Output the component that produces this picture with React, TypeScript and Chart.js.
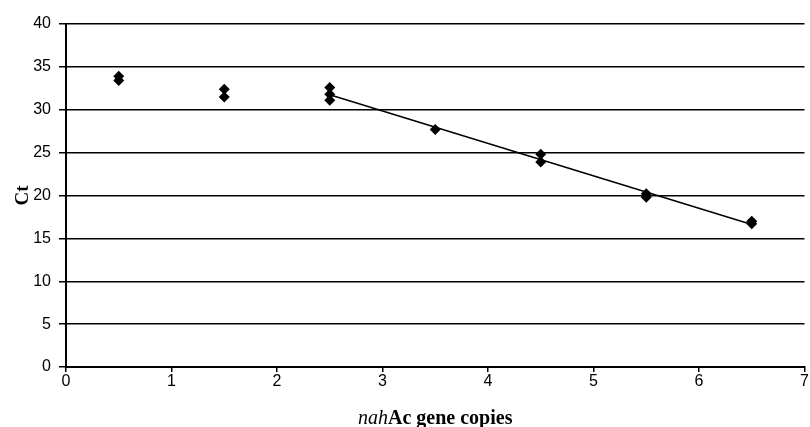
import React, { useEffect, useRef } from "react";
import { Chart, registerables } from "chart.js";

Chart.register(...registerables);

// Measured points (x = log gene copies, y = Ct)
const pointsX = [0.5, 0.5, 1.5, 1.5, 2.5, 2.5, 2.5, 3.5, 4.5, 4.5, 5.5, 5.5, 6.5, 6.5];
const pointsY = [33.9, 33.4, 32.4, 31.5, 32.6, 31.8, 31.1, 27.7, 24.8, 23.9, 20.2, 19.8, 17.0, 16.7];

// Linear trend fitted over this x range
const trendRange = [2.5, 6.5];

const xTicks = [0, 1, 2, 3, 4, 5, 6, 7];
const yTicks = [0, 5, 10, 15, 20, 25, 30, 35, 40];

const yTitle = "Ct";
const xTitleItalic = "nah";
const xTitleRest = "Ac gene copies";

function fitLine() {
  const xs: number[] = [];
  const ys: number[] = [];
  pointsX.forEach((x, i) => {
    if (x >= trendRange[0] && x <= trendRange[1]) {
      xs.push(x);
      ys.push(pointsY[i]);
    }
  });
  const n = xs.length;
  const mx = xs.reduce((a, b) => a + b, 0) / n;
  const my = ys.reduce((a, b) => a + b, 0) / n;
  let sxy = 0;
  let sxx = 0;
  for (let i = 0; i < n; i++) {
    sxy += (xs[i] - mx) * (ys[i] - my);
    sxx += (xs[i] - mx) * (xs[i] - mx);
  }
  const slope = sxy / sxx;
  const b = my - slope * mx;
  return trendRange.map((x) => ({ x, y: slope * x + b }));
}

const titlesPlugin = {
  id: "titles",
  afterDraw(chart: any) {
    const ctx = chart.ctx;
    const area = chart.chartArea;
    ctx.save();
    ctx.fillStyle = "#000";
    // y title
    ctx.font = "bold 19px 'Liberation Serif', serif";
    ctx.translate(23, (area.top + area.bottom) / 2);
    ctx.rotate(-Math.PI / 2);
    ctx.textAlign = "center";
    ctx.textBaseline = "middle";
    ctx.fillText(yTitle, 0, 0);
    ctx.restore();

    ctx.save();
    ctx.fillStyle = "#000";
    ctx.textBaseline = "middle";
    ctx.textAlign = "left";
    const fItalic = "italic 20px 'Liberation Serif', serif";
    const fBold = "bold 20px 'Liberation Serif', serif";
    ctx.font = fItalic;
    const w1 = ctx.measureText(xTitleItalic).width;
    ctx.font = fBold;
    const w2 = ctx.measureText(xTitleRest).width;
    const cx = (area.left + area.right) / 2;
    const start = cx - (w1 + w2) / 2;
    const y = 419;
    ctx.font = fItalic;
    ctx.fillText(xTitleItalic, start, y);
    ctx.font = fBold;
    ctx.fillText(xTitleRest, start + w1, y);
    ctx.restore();
  },
};

export default function App() {
  const ref = useRef<HTMLCanvasElement>(null);

  useEffect(() => {
    document.body.style.margin = "0";
    const canvas = ref.current;
    if (!canvas) return;
    const scatter = pointsX.map((x, i) => ({ x, y: pointsY[i] }));
    const tickFont = { family: "'Liberation Sans', Arial, sans-serif", size: 16 };
    const chart = new Chart(canvas, {
      type: "scatter",
      data: {
        datasets: [
          {
            data: scatter,
            pointStyle: "rectRot",
            pointRadius: 5.5,
            pointBackgroundColor: "#000",
            pointBorderColor: "#000",
            borderWidth: 0,
            showLine: false,
            order: 1,
          },
          {
            data: fitLine(),
            showLine: true,
            borderColor: "#000",
            borderWidth: 1.6,
            pointRadius: 0,
            order: 2,
          } as any,
        ],
      },
      options: {
        responsive: false,
        animation: false,
        layout: { padding: { top: 24, right: 4, left: 0, bottom: 0 } },
        plugins: { legend: { display: false }, tooltip: { enabled: false } },
        scales: {
          x: {
            type: "linear",
            min: 0,
            max: 7,
            afterBuildTicks: (s: any) => {
              s.ticks = xTicks.map((v) => ({ value: v }));
            },
            afterFit: (s: any) => {
              s.height = 60;
            },
            ticks: { color: "#000", font: tickFont, padding: 0, maxRotation: 0 },
            grid: {
              drawOnChartArea: false,
              drawTicks: true,
              tickLength: 5,
              color: "#000",
              lineWidth: 1.5,
            },
            border: { display: true, color: "#000", width: 2 },
          },
          y: {
            type: "linear",
            min: 0,
            max: 40,
            afterBuildTicks: (s: any) => {
              s.ticks = yTicks.map((v) => ({ value: v }));
            },
            afterFit: (s: any) => {
              s.width = 66;
            },
            ticks: { color: "#000", font: tickFont, padding: 8 },
            grid: {
              drawOnChartArea: true,
              drawTicks: true,
              tickLength: 7,
              color: "#000",
              lineWidth: 1.5,
            },
            border: { display: true, color: "#000", width: 2 },
          },
        },
      },
      plugins: [titlesPlugin],
    });
    return () => chart.destroy();
  }, []);

  return <canvas ref={ref} width={810} height={427} style={{ display: "block" }} />;
}
